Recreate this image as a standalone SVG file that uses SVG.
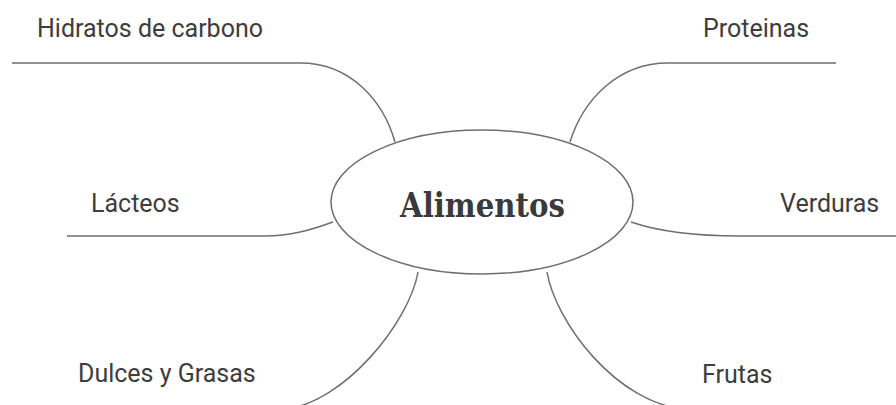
<svg xmlns="http://www.w3.org/2000/svg" width="896" height="405" viewBox="0 0 896 405">
<style>
.lbl{font-family:Roboto,"Noto Sans","Liberation Sans",sans-serif;font-size:25px;fill:#3d3d3d}
.con{fill:none;stroke:#6e6e6e;stroke-width:1.5}
.center{font-family:"DejaVu Serif","Liberation Serif",serif;font-weight:bold;font-size:33px;fill:#3a3a3a}
</style>
<rect width="896" height="405" fill="#ffffff"/>
<g id="connectors">
<path class="con" d="M12 63 L300 63 C350 63 383 100 395 142"/>
<path class="con" d="M570 142 C583 100 618 63 668 63 L836 63"/>
<path class="con" d="M67 236 L265 236 C295 236 315 228 333 222"/>
<path class="con" d="M631 222 C660 232 700 236 740 236 L896 236"/>
<path class="con" d="M418 272 C410 320 345 405 280 410 L70 410"/>
<path class="con" d="M547 272 C555 320 615 405 690 410 L880 410"/>
</g>
<g id="n-alimentos">
<ellipse cx="482" cy="202" rx="151" ry="72" fill="#ffffff" stroke="#6e6e6e" stroke-width="1.5"/>
<text class="center" x="482.5" y="217" text-anchor="middle" textLength="165" lengthAdjust="spacingAndGlyphs">Alimentos</text>
</g>
<g id="n-hidratos"><text class="lbl" x="37" y="37">Hidratos de carbono</text></g>
<g id="n-proteinas"><text class="lbl" x="703" y="37">Proteinas</text></g>
<g id="n-lacteos"><text class="lbl" x="91" y="212">Lácteos</text></g>
<g id="n-verduras"><text class="lbl" x="780" y="212">Verduras</text></g>
<g id="n-dulces"><text class="lbl" x="78" y="382">Dulces y Grasas</text></g>
<g id="n-frutas"><text class="lbl" x="702" y="383">Frutas</text></g>
</svg>
